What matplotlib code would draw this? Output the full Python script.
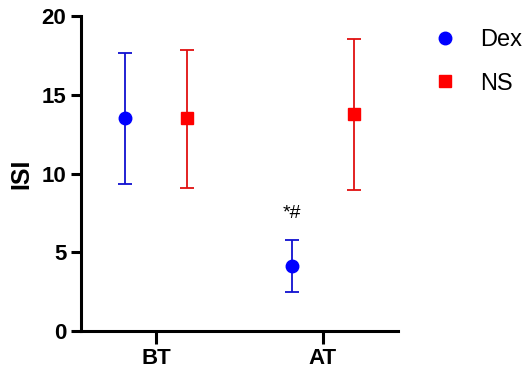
import matplotlib.pyplot as plt
import numpy as np

plt.rcParams['font.family'] = ['Liberation Sans', 'DejaVu Sans']

categories = ["BT", "AT"]
dex_mean = [13.5, 4.13]
dex_upper = [17.65, 5.8]
dex_lower = [9.35, 2.46]
ns_mean = [13.5, 13.75]
ns_upper = [17.85, 18.55]
ns_lower = [9.06, 8.95]
annot_text = "*#"
annot_y = 6.95

x = np.arange(len(categories))
off = 0.186

fig = plt.figure(figsize=(5.3, 3.78), dpi=100)
ax = fig.add_axes([81 / 530, 1 - 331 / 378, (398 - 81) / 530, (331 - 16) / 378])

dm = np.array(dex_mean)
nm = np.array(ns_mean)
ax.errorbar(x - off, dm, yerr=[dm - np.array(dex_lower), np.array(dex_upper) - dm],
            fmt="o", color="#0000ff", ecolor="#1010d0", elinewidth=1.3, capsize=5,
            capthick=1.3, markersize=9, label="Dex", clip_on=False)
ax.errorbar(x + off, nm, yerr=[nm - np.array(ns_lower), np.array(ns_upper) - nm],
            fmt="s", color="#ff0000", ecolor="#e01010", elinewidth=1.3, capsize=5,
            capthick=1.3, markersize=9, label="NS", clip_on=False)

ax.text(x[1] - off, annot_y, annot_text, ha="center", va="bottom", fontsize=14)

ax.set_xlim(-0.45, 1.45)
ax.set_ylim(0, 20)
ax.set_yticks([0, 5, 10, 15, 20])
ax.set_xticks(x)
ax.set_xticklabels(categories)
ax.set_ylabel("ISI", fontsize=18, fontweight="bold", labelpad=6)

for s in ["top", "right"]:
    ax.spines[s].set_visible(False)
for s in ["left", "bottom"]:
    ax.spines[s].set_linewidth(2.2)
ax.tick_params(axis="both", width=2.2, length=7, labelsize=16)
ax.tick_params(axis="x", length=9)
for lab in ax.get_xticklabels() + ax.get_yticklabels():
    lab.set_fontweight("bold")

handles, labels = ax.get_legend_handles_labels()
handles = [h[0] for h in handles]
fig.legend(handles, labels, loc="upper left", bbox_to_anchor=(412 / 530, 1 - 8 / 378),
           frameon=False, fontsize=17, handletextpad=1.0, labelspacing=0.9,
           handlelength=1.0)

fig.savefig("out.png", dpi=100)
